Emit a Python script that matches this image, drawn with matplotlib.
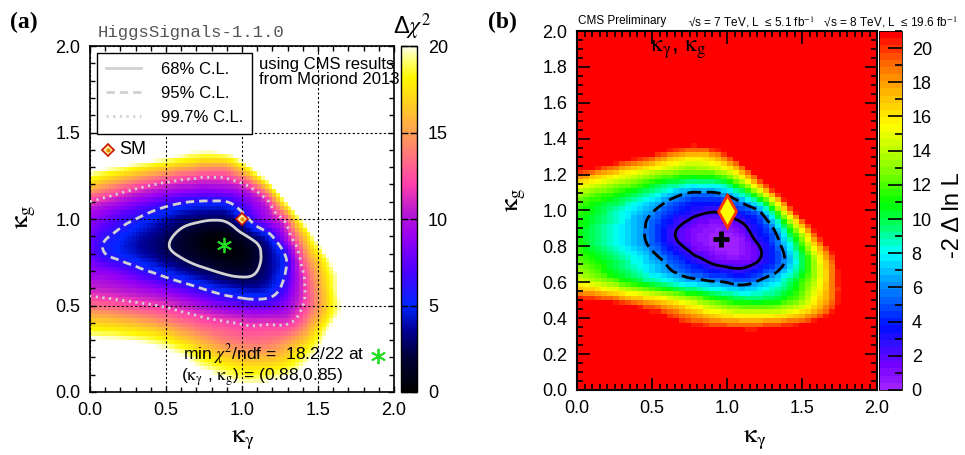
import matplotlib
matplotlib.use("Agg")
import matplotlib.pyplot as plt
import matplotlib.tri as mtri
from matplotlib.colors import LinearSegmentedColormap, Normalize
from matplotlib.lines import Line2D
from matplotlib.ticker import MultipleLocator, FormatStrFormatter
import numpy as np

plt.rcParams['font.family'] = ['Liberation Sans', 'DejaVu Sans']
plt.rcParams['mathtext.fontset'] = 'stix'

# grid nodes: kappa_gamma (columns) and kappa_g (rows), step 0.1
kgam = np.round(np.arange(0, 2.01, 0.1), 1)
kg = np.round(np.arange(0, 2.01, 0.1), 1)

# ---------------- (a) HiggsSignals: delta chi2, rows kg = 0.0 ... 1.5 ----------------
dchi2_a = [
    [40, 38, 36, 34, 32, 30, 27, 25, 23, 22, 21, 21, 22, 24, 27, 31, 35, 39, 40, 40, 40],
    [32, 30, 28.5, 27, 25.5, 24, 22.5, 21.2, 20.2, 19.3, 18.7, 18.6, 19, 19.8, 21.5, 25, 29, 33, 37, 40, 40],
    [26, 25, 24, 23, 22, 21, 20.2, 18.8, 17.5, 16.6, 16.0, 15.8, 16.0, 17.0, 18.8, 21, 24.5, 28.5, 33, 37, 40],
    [20.6, 20.3, 20.0, 19.6, 19.0, 18.2, 17.0, 15.8, 14.7, 13.9, 13.5, 13.4, 13.7, 14.6, 16.2, 18.8, 22.5, 26.5, 31, 35, 39],
    [17.0, 16.7, 16.3, 15.8, 15.2, 14.5, 13.7, 13.0, 12.4, 12.0, 11.6, 11.4, 11.5, 11.6, 13.5, 16.5, 20, 24, 28.5, 33, 37],
    [13.5, 13.2, 12.8, 12.4, 12.0, 11.5, 10.8, 10.0, 9.1, 8.3, 7.8, 7.5, 7.8, 9.2, 11.8, 14.8, 18.3, 22, 26.5, 31, 35],
    [10.8, 10.5, 10.1, 9.6, 9.0, 8.2, 7.3, 6.3, 5.3, 4.5, 4.0, 3.9, 4.9, 7.5, 11.3, 15.0, 18.8, 23, 27.5, 32, 36],
    [9.0, 8.5, 7.8, 6.8, 5.8, 4.8, 3.9, 3.1, 2.4, 1.8, 1.6, 2.3, 3.9, 6.5, 11.8, 15.8, 19.4, 23, 27, 31, 35],
    [7.8, 6.0, 5.1, 4.3, 3.5, 2.7, 2.0, 1.2, 0.6, 0.3, 0.6, 1.8, 3.9, 7.0, 13.5, 17.8, 22.5, 27, 31.5, 36, 40],
    [8.0, 6.3, 5.3, 4.3, 3.5, 2.7, 1.8, 1.0, 0.4, 0.5, 1.8, 3.5, 6.0, 10.6, 16, 21.5, 27, 32, 37, 40, 40],
    [9.0, 8.0, 6.9, 6.0, 5.0, 4.1, 3.3, 2.8, 2.5, 2.8, 4.8, 7.6, 10.0, 13.5, 21, 27, 33, 38, 40, 40, 40],
    [11.8, 10.8, 9.8, 8.8, 7.9, 7.0, 6.3, 5.9, 5.8, 6.0, 7.6, 9.5, 13.2, 21, 28, 34, 39, 40, 40, 40, 40],
    [17, 15.5, 14.2, 13.1, 12.1, 11.3, 10.7, 10.3, 10.2, 10.5, 11.5, 14.5, 20.5, 28, 34, 39, 40, 40, 40, 40, 40],
    [21.5, 20.6, 19.7, 18.7, 17.7, 16.8, 15.9, 15.2, 14.8, 15.0, 17.5, 22, 28, 34, 39, 40, 40, 40, 40, 40, 40],
    [27, 26, 25, 24, 23, 22, 21, 20.2, 20.1, 21, 24, 29, 35, 40, 40, 40, 40, 40, 40, 40, 40],
    [33, 32, 31, 30, 29, 28, 27, 26.5, 26.5, 27.5, 31, 36, 40, 40, 40, 40, 40, 40, 40, 40, 40],
]

# ---------------- (b) CMS: -2 delta lnL, rows kg = 0.0 ... 1.5 ----------------
nll_b = [
    [40] * 21,
    [40] * 21,
    [40, 40, 38, 36.5, 35, 33, 31.5, 30.5, 29.5, 29, 28.7, 28.6, 28.7, 29, 29.6, 30.5, 32, 34, 37, 40, 40],
    [33, 31.5, 30, 29, 28, 26.5, 25, 24, 23.2, 22.6, 22.3, 22.2, 22.3, 22.7, 23.2, 24, 25.5, 28, 31, 35, 39],
    [27, 26, 25, 24, 23, 22, 20.9, 19.6, 18.5, 17.6, 17.0, 16.7, 16.6, 16.8, 17.4, 18.4, 19.8, 22, 25.5, 29.5, 34],
    [21.5, 20.8, 20.0, 19.0, 18.0, 17.0, 15.8, 14.6, 13.3, 12.0, 11.0, 10.4, 10.2, 10.5, 11.5, 13.2, 16.0, 19.0, 23.0, 28, 33],
    [15.5, 14.3, 13.0, 11.8, 10.6, 9.5, 8.5, 7.6, 6.9, 6.3, 5.9, 5.3, 6.2, 7.4, 9.2, 11.6, 14.6, 18.5, 23, 28, 33],
    [13.0, 11.8, 10.6, 9.4, 8.3, 7.1, 5.9, 4.6, 3.4, 2.4, 1.8, 1.7, 2.6, 4.3, 6.6, 9.8, 14.0, 19.0, 24, 29, 34],
    [11.5, 10.2, 9.1, 8.1, 7.0, 5.6, 3.8, 2.4, 1.2, 0.5, 0.1, 0.5, 2.0, 4.2, 7.3, 11.5, 17, 22, 27, 32, 37],
    [11.2, 10.0, 8.9, 7.9, 6.7, 5.2, 3.3, 2.0, 1.2, 0.6, 0.7, 1.6, 3.5, 5.7, 10.2, 16, 22.5, 28, 33, 38, 40],
    [11.8, 10.7, 9.6, 8.5, 7.2, 6.2, 4.8, 3.6, 2.8, 2.5, 3.0, 4.3, 5.8, 10, 17, 24, 30, 35, 40, 40, 40],
    [14, 12.8, 12.0, 11.2, 10.2, 9.0, 7.7, 6.5, 5.9, 5.9, 6.8, 9.2, 13, 18.5, 25, 31, 37, 40, 40, 40, 40],
    [19.5, 18.0, 16.8, 15.6, 14.5, 13.5, 12.6, 11.9, 11.6, 11.9, 13.2, 16.5, 21.5, 28, 34, 40, 40, 40, 40, 40, 40],
    [27, 25.5, 24, 22.5, 21, 19.8, 18.3, 17.0, 16.6, 17.3, 19.5, 23.5, 29, 35, 40, 40, 40, 40, 40, 40, 40],
    [35, 33, 31, 29.5, 28, 26.5, 25, 23.5, 23, 24, 26.5, 30.5, 35, 40, 40, 40, 40, 40, 40, 40, 40],
    [40, 40, 38, 36, 35, 34, 32, 31, 30.5, 31.5, 34, 37, 40, 40, 40, 40, 40, 40, 40, 40, 40],
]

levels_a = [2.30, 5.99, 11.83]
levels_b = [2.30, 5.99]
cl_labels = ["68% C.L.", "95% C.L.", "99.7% C.L."]
bestfit_a = (0.88, 0.85)
bestfit_b = (0.96, 0.84)
sm_point = (1.0, 1.0)

KG = r"$\mathrm{\kappa}_\mathrm{g}$"
KGAM = r"$\mathrm{\kappa}_\mathrm{\gamma}$"


def full_grid(rows):
    z = np.array(rows, dtype=float)
    return np.vstack([z, np.full((len(kg) - len(z), len(kgam)), 40.0)])


def smooth(z, xs, ys):
    gx, gy = np.meshgrid(kgam, kg)
    tri = mtri.Triangulation(gx.ravel(), gy.ravel())
    f = mtri.CubicTriInterpolator(tri, z.ravel(), kind="min_E")
    XX, YY = np.meshgrid(xs, ys)
    return XX, YY, np.ma.filled(f(XX, YY), 40.0)


za = full_grid(dchi2_a)
zb = full_grid(nll_b)

# ---------------- COLOR MAPS ----------------
cmap_a = LinearSegmentedColormap.from_list("hs", [
    (0.00, (0, 0, 0)), (0.10, (0, 0, 0.22)), (0.18, (0, 0, 0.6)),
    (0.25, (0.0, 0.15, 1.0)), (0.35, (0.3, 0.0, 1.0)), (0.45, (0.6, 0.0, 0.95)),
    (0.52, (0.72, 0.1, 0.82)), (0.60, (1.0, 0.25, 0.68)), (0.68, (1.0, 0.45, 0.5)),
    (0.75, (1.0, 0.63, 0.32)), (0.84, (1.0, 0.82, 0.12)), (0.91, (1.0, 0.97, 0.0)),
    (0.96, (1.0, 1.0, 0.45)), (1.00, (1.0, 1.0, 0.93))])
cmap_a.set_over("white")

cmap_b = LinearSegmentedColormap.from_list("root", [
    (0.00, (0.62, 0.12, 1.0)), (0.06, (0.45, 0.0, 1.0)), (0.12, (0.2, 0.05, 1.0)),
    (0.17, (0.0, 0.05, 1.0)), (0.24, (0.0, 0.35, 1.0)), (0.30, (0.0, 0.62, 1.0)),
    (0.38, (0.0, 1.0, 1.0)), (0.45, (0.0, 1.0, 0.45)), (0.52, (0.0, 1.0, 0.0)),
    (0.62, (0.55, 1.0, 0.0)), (0.74, (1.0, 1.0, 0.0)), (0.84, (1.0, 0.7, 0.0)),
    (0.92, (1.0, 0.4, 0.0)), (1.00, (1.0, 0.0, 0.0))], N=50)
cmap_b.set_over((1.0, 0.0, 0.0))

fig = plt.figure(figsize=(9.65, 4.55), dpi=100)

# =============================== PANEL (a) ===============================
ax = fig.add_axes([90 / 965, 63 / 455, 304 / 965, 346 / 455])
cax = fig.add_axes([401 / 965, 63 / 455, 16 / 965, 346 / 455])

xe = np.linspace(0, 2, 81)
xc = 0.5 * (xe[1:] + xe[:-1])
_, _, cells = smooth(za, xc, xc)
mesh = ax.pcolormesh(xe, xe, cells, cmap=cmap_a, norm=Normalize(0, 20), shading="flat", zorder=1)

fine = np.linspace(0, 2, 401)
FX, FY, FZ = smooth(za, fine, fine)
ax.contour(FX, FY, FZ, levels=levels_a, colors="#d2d2d2", linewidths=2.0,
           linestyles=["solid", (0, (3, 1.8)), (0, (0.8, 1.6))], zorder=3)

ax.set_xlim(0, 2)
ax.set_ylim(0, 2)
ax.xaxis.set_major_locator(MultipleLocator(0.5))
ax.yaxis.set_major_locator(MultipleLocator(0.5))
ax.xaxis.set_minor_locator(MultipleLocator(0.1))
ax.yaxis.set_minor_locator(MultipleLocator(0.1))
ax.xaxis.set_major_formatter(FormatStrFormatter("%.1f"))
ax.yaxis.set_major_formatter(FormatStrFormatter("%.1f"))
ax.tick_params(which="both", direction="in", top=True, right=True, labelsize=13, pad=7, width=1)
ax.tick_params(which="major", length=4.5)
ax.tick_params(which="minor", length=3.5)
ax.set_axisbelow(False)
ax.grid(True, which="major", color="black", linestyle=(0, (2, 2)), linewidth=0.8)
for s in ax.spines.values():
    s.set_linewidth(1.2)

ax.set_xlabel(KGAM, fontsize=19)
ax.set_ylabel(KG, fontsize=19)
ax.xaxis.set_label_coords(0.503, -0.105)
ax.yaxis.set_label_coords(-0.17, 0.506)

handles = [Line2D([], [], color="#d2d2d2", lw=2.0, ls=st)
           for st in ["solid", (0, (3, 1.8)), (0, (0.8, 1.6))]]
leg = ax.legend(handles, cl_labels, loc="upper left", bbox_to_anchor=(0.022, 0.981),
                borderaxespad=0, fontsize=12, frameon=True, fancybox=False,
                edgecolor="black", framealpha=1, handlelength=2.1, handletextpad=1.2,
                labelspacing=0.55, borderpad=0.55)
leg.get_frame().set_linewidth(1.0)
leg.set_zorder(6)

ax.text(0.556, 0.968, "using CMS results\nfrom Moriond 2013", transform=ax.transAxes,
        ha="left", va="top", fontsize=12, linespacing=1.0, zorder=6)

# SM key and SM point
ax.plot(0.12, 1.40, marker="D", ms=6, mfc="#fff0a0", mec="#c81400", mew=1.2, zorder=7)
ax.plot(0.12, 1.40, marker="o", ms=2, color="#e08a00", zorder=8)
ax.text(0.19, 1.40, "SM", fontsize=13, va="center", ha="left", zorder=7)
ax.plot(*sm_point, marker="D", ms=6, mfc="#fff0a0", mec="#c81400", mew=1.2, zorder=7)
ax.plot(*sm_point, marker="o", ms=2, color="#e08a00", zorder=8)

# best fit
ax.plot(*bestfit_a, marker=(6, 2, 0), ms=11, color="#22dd22", mew=1.3, zorder=7)
ax.text(0.61, 0.222, r"min $\chi^2$/ndf =  18.2/22 at", fontsize=12.5, va="center", ha="left", zorder=7)
ax.text(0.60, 0.088, r"($\mathrm{\kappa}_\mathrm{\gamma}$ , $\mathrm{\kappa}_\mathrm{g}$) = (0.88,0.85)",
        fontsize=12.5, va="center", ha="left", zorder=7)
ax.plot(1.897, 0.21, marker=(6, 2, 0), ms=11, color="#22dd22", mew=1.3, zorder=7, clip_on=False)

cb = fig.colorbar(mesh, cax=cax, ticks=[0, 5, 10, 15, 20])
cb.outline.set_linewidth(1.0)
cax.tick_params(direction="in", length=5, width=1, left=True, right=True,
                labelleft=False, labelright=True, labelsize=13, pad=8)

fig.text(412 / 965, 1 - 27 / 455, r"Δ$\chi^2$", fontsize=17, ha="center", va="center")
fig.text(10 / 965, 1 - 22 / 455, "(a)", fontsize=17, fontweight="bold",
         family="Liberation Serif", ha="left", va="center")
fig.text(98 / 965, 1 - 33 / 455, "HiggsSignals-1.1.0", fontsize=12.5,
         family="Liberation Mono", color="#555555", ha="left", va="center")

# =============================== PANEL (b) ===============================
bx = fig.add_axes([577 / 965, 65 / 455, 300 / 965, 359 / 455])
bcax = fig.add_axes([879 / 965, 65 / 455, 23 / 965, 359 / 455])

xe_b = np.linspace(0, 2, 51)
ye_b = np.linspace(0, 2, 81)
_, _, cells_b = smooth(zb, 0.5 * (xe_b[1:] + xe_b[:-1]), 0.5 * (ye_b[1:] + ye_b[:-1]))
mesh_b = bx.pcolormesh(xe_b, ye_b, cells_b, cmap=cmap_b, norm=Normalize(0, 21), shading="flat")

GX, GY, GZ = smooth(zb, fine, fine)
bx.contour(GX, GY, GZ, levels=levels_b, colors="black", linewidths=2.0,
           linestyles=["solid", (0, (5, 2))], zorder=3)

bx.plot(*bestfit_b, marker="+", ms=11, mew=3.5, color="black", zorder=5)
bx.plot(*sm_point, marker="d", ms=16, mfc="#ffff00", mec="#ff3300", mew=2, zorder=5)

bx.set_xlim(0, 2)
bx.set_ylim(0, 2)
bx.xaxis.set_major_locator(MultipleLocator(0.5))
bx.yaxis.set_major_locator(MultipleLocator(0.2))
bx.xaxis.set_minor_locator(MultipleLocator(0.05))
bx.yaxis.set_minor_locator(MultipleLocator(0.05))
bx.xaxis.set_major_formatter(FormatStrFormatter("%.1f"))
bx.yaxis.set_major_formatter(FormatStrFormatter("%.1f"))
bx.tick_params(which="both", direction="in", top=True, right=True, labelsize=13, pad=7, width=1.2)
bx.tick_params(which="major", length=9)
bx.tick_params(which="minor", length=4.5)
for s in bx.spines.values():
    s.set_linewidth(1.5)

bx.set_xlabel(KGAM, fontsize=19)
bx.set_ylabel(KG, fontsize=19)
bx.xaxis.set_label_coords(0.593, -0.105)
bx.yaxis.set_label_coords(-0.165, 0.529)

bx.text(0.49, 1.894, r"$\mathrm{\kappa}_\mathrm{\gamma}$, $\mathrm{\kappa}_\mathrm{g}$",
        fontsize=17, ha="left", va="center")

cb_b = fig.colorbar(mesh_b, cax=bcax, ticks=np.arange(0, 21, 2))
cb_b.outline.set_linewidth(0.6)
bcax.yaxis.set_minor_locator(MultipleLocator(1))
bcax.tick_params(which="both", direction="in", right=True, left=False, labelsize=13, pad=7, width=1.2)
bcax.tick_params(which="major", length=10)
bcax.tick_params(which="minor", length=5)

fig.text(953 / 965, 1 - 215 / 455, "-2 Δ ln L", fontsize=17, rotation=90,
         ha="center", va="center")
fig.text(488 / 965, 1 - 22 / 455, "(b)", fontsize=17, fontweight="bold",
         family="Liberation Serif", ha="left", va="center")
fig.text(578 / 965, 1 - 21 / 455, "CMS Preliminary", fontsize=8.5, ha="left", va="center")
fig.text(688 / 965, 1 - 22 / 455,
         r"√s = 7 TeV, L  ≤ 5.1 fb$^{-1}$   √s = 8 TeV, L  ≤ 19.6 fb$^{-1}$",
         fontsize=8.5, ha="left", va="center")

fig.savefig("out.png", dpi=100)
